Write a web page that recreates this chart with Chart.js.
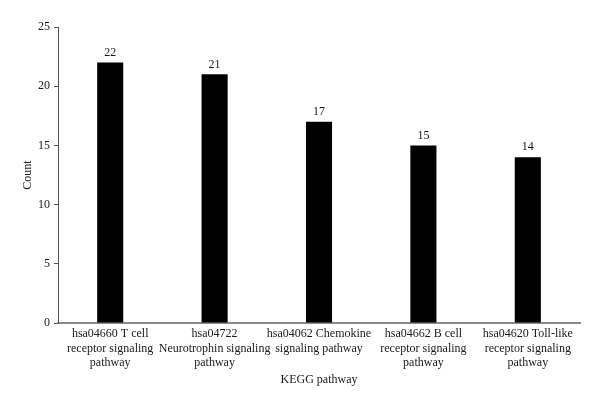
<!DOCTYPE html>
<html>
<head>
<meta charset="utf-8">
<script src="https://cdn.jsdelivr.net/npm/chart.js@4/dist/chart.umd.min.js"></script>
<style>
  html, body { margin: 0; padding: 0; background: #fff; }
  #wrap { width: 600px; height: 407px; }
</style>
</head>
<body>
<div id="wrap"><canvas id="kegg-chart"></canvas></div>
<script>
"use strict";

const categories = [
    ["hsa04660 T cell", "receptor signaling", "pathway"],
    ["hsa04722", "Neurotrophin signaling", "pathway"],
    ["hsa04062 Chemokine", "signaling pathway"],
    ["hsa04662 B cell", "receptor signaling", "pathway"],
    ["hsa04620 Toll-like", "receptor signaling", "pathway"],
];
const counts = [22, 21, 17, 15, 14];
const yTicks = [0, 5, 10, 15, 20, 25];

const serif = "'Liberation Serif', 'DejaVu Serif', serif";

// 棒の上に値を書く
const valueLabels = {
    id: "valueLabels",
    afterDatasetsDraw(chart) {
        const ctx = chart.ctx;
        ctx.save();
        ctx.font = "12px " + serif;
        ctx.fillStyle = "#1a1a1a";
        ctx.textAlign = "center";
        ctx.textBaseline = "bottom";
        chart.getDatasetMeta(0).data.forEach((bar, i) => {
            ctx.fillText(String(counts[i]), bar.x, bar.y - 4);
        });
        ctx.restore();
    },
};

new Chart(document.getElementById("kegg-chart"), {
    type: "bar",
    data: {
        labels: categories,
        datasets: [
            {
                data: counts,
                backgroundColor: "#000",
                borderWidth: 0,
                categoryPercentage: 1,
                barPercentage: 0.25,
            },
        ],
    },
    options: {
        responsive: true,
        maintainAspectRatio: false,
        animation: false,
        layout: { padding: { top: 27, right: 20, left: 0, bottom: 0 } },
        scales: {
            x: {
                grid: { display: false, drawTicks: false },
                border: { color: "#8a8a8a", width: 2 },
                ticks: {
                    color: "#1a1a1a",
                    font: { family: serif, size: 12 },
                    maxRotation: 0,
                    autoSkip: false,
                    padding: 4,
                },
                title: {
                    display: true,
                    text: "KEGG pathway",
                    color: "#1a1a1a",
                    font: { family: serif, size: 12 },
                    padding: { top: 0, bottom: 20 },
                },
                afterFit(scale) { scale.height = 84; },
            },
            y: {
                min: 0,
                max: 25,
                afterBuildTicks(scale) {
                    scale.ticks = yTicks.map(v => ({ value: v }));
                },
                grid: {
                    drawOnChartArea: false,
                    tickLength: 4,
                    color: "#555",
                },
                border: { color: "#555", width: 1 },
                ticks: {
                    color: "#1a1a1a",
                    font: { family: serif, size: 12 },
                    padding: 4,
                },
                title: {
                    display: true,
                    text: "Count",
                    color: "#1a1a1a",
                    font: { family: serif, size: 12 },
                    padding: { top: 21, bottom: 0 },
                },
                afterFit(scale) { scale.width = 58; },
            },
        },
        plugins: {
            legend: { display: false },
            tooltip: { enabled: false },
        },
    },
    plugins: [valueLabels],
});
</script>
</body>
</html>
